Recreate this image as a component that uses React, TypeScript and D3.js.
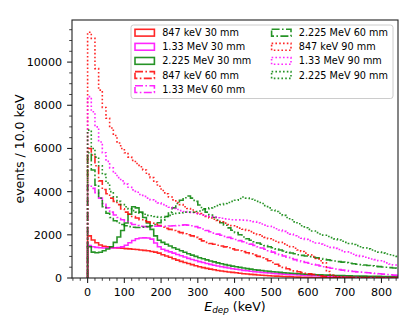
import React from "react";
import * as d3 from "d3";

// ---- data (events per 10 keV bin, bins 0..850 keV) ----
const BIN_WIDTH = 10;
const NBINS = 85;

const red30 = [1950,1760,1630,1530,1470,1440,1410,1400,1390,1380,
1360,1350,1330,1320,1300,1280,1260,1230,1200,1150,
1080,1020,960,890,830,770,720,670,620,570,
520,480,445,410,380,350,325,300,280,260,
240,220,200,185,170,155,140,128,116,105,
95,86,78,70,62,55,48,42,37,32,
28,25,22,18,12,8,6,5,5,4,
4,4,3,3,3,3,2,2,2,2,
2,2,1,1,1];
const mag30 = [1500,1450,1420,1400,1390,1390,1390,1400,1410,1440,
1520,1630,1740,1820,1850,1860,1850,1800,1620,1450,
1330,1270,1210,1150,1090,1030,970,910,860,810,
760,715,670,630,590,555,520,490,460,430,
405,380,355,335,315,295,278,260,245,230,
215,202,190,178,167,157,148,139,131,123,
116,110,104,98,93,88,83,79,75,71,
67,64,61,58,55,52,50,47,45,43,
41,39,37,35,33];
const grn30 = [1450,1200,1170,1190,1260,1340,1450,1650,1900,2200,
2550,2950,3300,3250,3050,2800,2550,2250,1950,1750,
1650,1560,1480,1400,1330,1260,1190,1120,1060,1000,
940,890,840,790,745,700,660,620,585,550,
520,490,460,435,410,385,365,345,325,305,
290,275,260,245,232,220,208,197,187,177,
168,160,152,145,138,131,125,119,114,109,
104,100,96,92,88,85,82,79,76,73,
70,68,66,64,62];
const red60 = [6000,5700,5200,4500,4100,3900,3700,3550,3400,3200,
3050,2950,2850,2780,2700,2650,2600,2550,2500,2430,
2350,2300,2250,2200,2150,2100,2050,2000,1950,1880,
1800,1720,1650,1600,1560,1520,1480,1440,1400,1350,
1300,1260,1220,1170,1120,1060,1000,940,880,800,
720,640,560,490,430,380,330,290,250,220,
190,160,130,100,70,40,30,25,22,20,
18,16,15,14,13,12,11,10,10,9,
9,8,8,7,7];
const mag60 = [4300,4150,3950,3700,3450,3250,3050,2920,2800,2700,
2620,2550,2480,2430,2400,2380,2370,2380,2400,2400,
2400,2400,2410,2420,2430,2450,2460,2450,2420,2380,
2330,2270,2200,2140,2080,2030,1980,1930,1880,1830,
1780,1730,1680,1620,1570,1510,1450,1390,1330,1260,
1200,1140,1080,1020,960,900,850,800,760,720,
680,640,600,560,520,485,450,420,390,365,
340,320,300,285,270,255,240,225,210,195,
180,165,150,135,120];
const grn60 = [5800,5000,4300,3700,3300,3000,2800,2650,2550,2480,
2420,2380,2350,2340,2340,2350,2380,2420,2480,2560,
2680,2850,3050,3250,3450,3600,3720,3800,3700,3550,
3380,3200,3050,2920,2800,2680,2560,2440,2320,2210,
2100,2000,1900,1820,1750,1680,1620,1560,1500,1450,
1400,1350,1300,1250,1200,1160,1120,1080,1050,1020,
990,960,930,900,870,840,810,785,760,735,
710,685,660,640,620,600,580,560,540,525,
510,495,480,465,450];
const red90 = [11380,11100,9700,8700,7900,7400,6950,6600,6250,6000,
5800,5600,5450,5300,5150,5000,4800,4650,4450,4250,
4050,3900,3750,3620,3500,3400,3300,3220,3150,3060,
2980,2920,2850,2780,2720,2660,2600,2540,2480,2420,
2370,2310,2260,2200,2150,2080,2000,1940,1880,1820,
1760,1700,1650,1580,1520,1450,1380,1300,1230,1150,
1080,990,900,800,700,300,120,80,60,50,
45,40,38,35,33,31,30,28,27,26,
25,24,23,22,21];
const mag90 = [8400,7700,7000,6300,5800,5400,5100,4850,4650,4500,
4350,4200,4080,3970,3870,3780,3700,3620,3550,3480,
3400,3340,3280,3220,3170,3120,3080,3050,3020,2990,
2950,2920,2880,2850,2820,2790,2770,2740,2720,2700,
2690,2690,2680,2670,2650,2610,2550,2500,2450,2400,
2340,2280,2220,2160,2090,2030,1960,1900,1840,1790,
1730,1680,1620,1570,1520,1470,1420,1370,1320,1270,
1210,1160,1100,1050,1000,960,920,880,850,800,
760,700,650,600,550];
const grn90 = [6850,6000,5600,5200,4800,4400,4000,3750,3550,3400,
3300,3200,3120,3050,3000,2950,2900,2880,2850,2820,
2800,2850,2900,2950,3000,3020,3050,3050,3050,3080,
3100,3150,3200,3250,3300,3350,3400,3450,3500,3550,
3600,3680,3750,3700,3650,3600,3550,3450,3350,3250,
3150,3080,3000,2900,2800,2700,2600,2510,2420,2330,
2250,2180,2100,2040,1980,1920,1870,1810,1760,1700,
1650,1600,1550,1500,1450,1400,1350,1300,1250,1200,
1150,1110,1080,1040,1000];

const seriesLabels = [
  "847 keV 30 mm", "1.33 MeV 30 mm", "2.225 MeV 30 mm",
  "847 keV 60 mm", "1.33 MeV 60 mm", "2.225 MeV 60 mm",
  "847 keV 90 mm", "1.33 MeV 90 mm", "2.225 MeV 90 mm",
];
const seriesValues = [red30, mag30, grn30, red60, mag60, grn60, red90, mag90, grn90];
const seriesColors = ["#ff0000", "#ff00ff", "#008000", "#ff0000", "#ff00ff", "#008000", "#ff0000", "#ff00ff", "#008000"];
const seriesStyles = ["solid", "solid", "solid", "dashdot", "dashdot", "dashdot", "dotted", "dotted", "dotted"];

const xMajorTicks = [0, 100, 200, 300, 400, 500, 600, 700, 800];
const yMajorTicks = [0, 2000, 4000, 6000, 8000, 10000];
const X_DOMAIN = [-42.5, 845];
const Y_DOMAIN = [0, 11950];

// ---- layout ----
const W = 419, H = 327;
const L = 72, R = 398, T = 20, B = 278;
const FONT = "DejaVu Sans, sans-serif";
const LW = 1.6;

function dashFor(style: string): string | undefined {
  if (style === "dashdot") return "8,2.4,1.6,2.4";
  if (style === "dotted") return "1.6,2.2";
  return undefined;
}

export default function App() {
  const x = d3.scaleLinear().domain(X_DOMAIN).range([L, R]);
  const y = d3.scaleLinear().domain(Y_DOMAIN).range([B, T]);

  const line = d3
    .line<[number, number]>()
    .x((d) => x(d[0]))
    .y((d) => y(d[1]))
    .curve(d3.curveStepAfter);

  const histPath = (vals: number[]) => {
    const pts: [number, number][] = [[0, 0]];
    vals.forEach((v, i) => pts.push([i * BIN_WIDTH, v]));
    pts.push([NBINS * BIN_WIDTH, 0]);
    return line(pts) || "";
  };

  const xMinor = d3.range(-40, 845, 20).filter((v) => v % 100 !== 0);
  const yMinor = d3.range(0, 11950, 500).filter((v) => v % 2000 !== 0);

  // legend layout
  const legFs = 9.7;
  const rowY = (r: number) => 32.7 + r * 14.1;
  const colHandleX = [135, 271.6];
  const handleW = 19.4, handleH = 6.8;
  const textOff = 27.2;

  return (
    <svg width={W} height={H} style={{ position: "absolute", left: 0, top: 0, background: "#fff" }}>
      <defs>
        <clipPath id="plotclip">
          <rect x={L} y={T} width={R - L} height={B - T} />
        </clipPath>
      </defs>
      <rect x={0} y={0} width={W} height={H} fill="#fff" />
      <g clipPath="url(#plotclip)">
        {seriesValues.map((vals, i) => (
          <path
            key={i}
            d={histPath(vals)}
            fill="none"
            stroke={seriesColors[i]}
            strokeOpacity={0.85}
            strokeWidth={LW}
            strokeDasharray={dashFor(seriesStyles[i])}
            strokeLinejoin="miter"
          />
        ))}
      </g>
      {/* frame */}
      <rect x={L} y={T} width={R - L} height={B - T} fill="none" stroke="#222" strokeWidth={1.1} />
      {/* x ticks */}
      {xMajorTicks.map((t) => (
        <g key={"xt" + t}>
          <line x1={x(t)} x2={x(t)} y1={B} y2={B + 4.9} stroke="#222" strokeWidth={1.1} />
          <text x={x(t)} y={296.3} textAnchor="middle" fontFamily={FONT} fontSize={11.1} fill="#000">
            {t}
          </text>
        </g>
      ))}
      {xMinor.map((t) => (
        <line key={"xm" + t} x1={x(t)} x2={x(t)} y1={B} y2={B + 2.8} stroke="#222" strokeWidth={0.85} />
      ))}
      {/* y ticks */}
      {yMajorTicks.map((t) => (
        <g key={"yt" + t}>
          <line x1={L - 4.9} x2={L} y1={y(t)} y2={y(t)} stroke="#222" strokeWidth={1.1} />
          <text x={62} y={y(t) + 4} textAnchor="end" fontFamily={FONT} fontSize={11.1} fill="#000">
            {t}
          </text>
        </g>
      ))}
      {yMinor.map((t) => (
        <line key={"ym" + t} x1={L - 2.8} x2={L} y1={y(t)} y2={y(t)} stroke="#222" strokeWidth={0.85} />
      ))}
      {/* axis labels */}
      <text x={235} y={310.5} textAnchor="middle" fontFamily={FONT} fontSize={12.5} fill="#000">
        <tspan fontStyle="italic">E</tspan>
        <tspan fontStyle="italic" fontSize={8.8} dy={2.6}>dep</tspan>
        <tspan dy={-2.6}> (keV)</tspan>
      </text>
      <text
        transform={`translate(23.5,${(T + B) / 2}) rotate(-90)`}
        textAnchor="middle"
        fontFamily={FONT}
        fontSize={12.5}
        fill="#000"
      >
        events / 10.0 keV
      </text>
      {/* legend */}
      <rect x={131} y={25} width={262} height={73.5} rx={2.5} fill="#fff" fillOpacity={0.8} stroke="#cccccc" strokeWidth={1} />
      {seriesLabels.map((lab, i) => {
        const col = i < 5 ? 0 : 1;
        const row = i < 5 ? i : i - 5;
        const cy = rowY(row);
        const hx = colHandleX[col];
        return (
          <g key={"lg" + i}>
            <rect
              x={hx}
              y={cy - handleH / 2}
              width={handleW}
              height={handleH}
              fill="none"
              stroke={seriesColors[i]}
              strokeOpacity={0.85}
              strokeWidth={LW}
              strokeDasharray={dashFor(seriesStyles[i])}
            />
            <text x={hx + textOff} y={cy + 3.5} fontFamily={FONT} fontSize={legFs} fill="#000">
              {lab}
            </text>
          </g>
        );
      })}
    </svg>
  );
}
